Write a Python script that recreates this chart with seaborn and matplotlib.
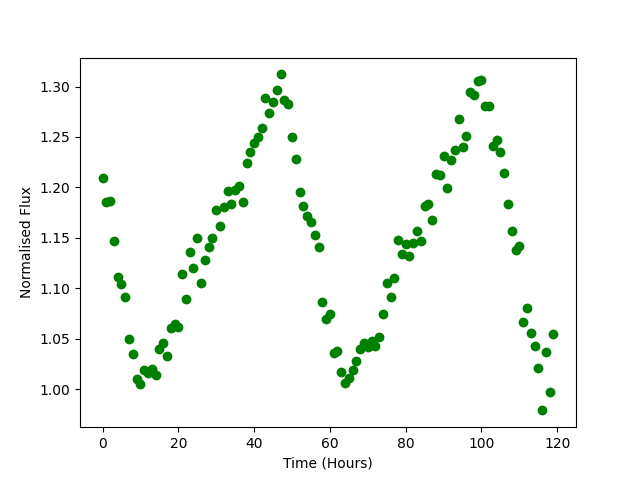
import numpy as np
import pandas as pd
import seaborn as sns
import matplotlib.pyplot as plt

# Tiempo en horas y flujo normalizado
hours = list(range(120))
flux = [1.209, 1.186, 1.187, 1.147, 1.111, 1.104, 1.091, 1.050, 1.035, 1.010,
        1.005, 1.019, 1.016, 1.020, 1.014, 1.040, 1.046, 1.033, 1.061, 1.065,
        1.062, 1.114, 1.089, 1.136, 1.120, 1.150, 1.105, 1.128, 1.141, 1.150,
        1.178, 1.162, 1.181, 1.196, 1.184, 1.197, 1.201, 1.186, 1.224, 1.235,
        1.244, 1.250, 1.259, 1.289, 1.274, 1.285, 1.297, 1.312, 1.287, 1.283,
        1.250, 1.228, 1.195, 1.182, 1.172, 1.166, 1.153, 1.141, 1.086, 1.070,
        1.075, 1.036, 1.038, 1.017, 1.006, 1.011, 1.019, 1.028, 1.040, 1.046,
        1.042, 1.048, 1.043, 1.052, 1.075, 1.105, 1.091, 1.110, 1.148, 1.134,
        1.144, 1.132, 1.145, 1.157, 1.147, 1.182, 1.184, 1.168, 1.213, 1.212,
        1.231, 1.199, 1.227, 1.237, 1.268, 1.240, 1.251, 1.295, 1.292, 1.305,
        1.306, 1.281, 1.281, 1.241, 1.247, 1.235, 1.214, 1.184, 1.157, 1.138,
        1.142, 1.067, 1.080, 1.056, 1.043, 1.021, 0.979, 1.037, 0.997, 1.055]

df = pd.DataFrame({"hours": hours, "flux": flux})

fig, ax = plt.subplots(figsize=(6.4, 4.8), dpi=100)
sns.scatterplot(data=df, x="hours", y="flux", color="green", s=50,
                linewidth=0, ax=ax)
ax.set_xlabel("Time (Hours)")
ax.set_ylabel("Normalised Flux")
fig.savefig("out.png", dpi=100)
